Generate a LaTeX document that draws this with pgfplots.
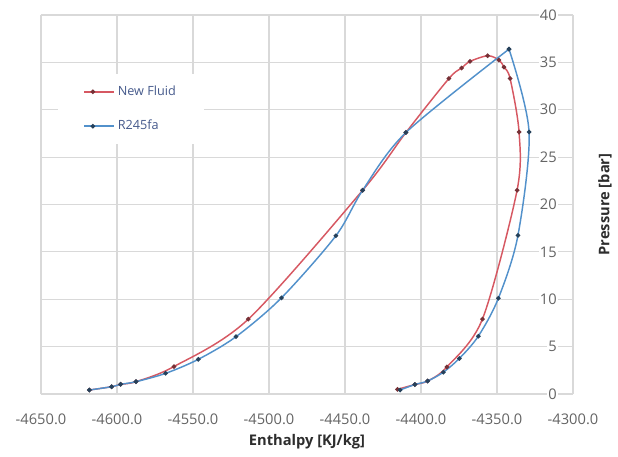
\documentclass[border=0pt]{standalone}
\usepackage{pgfplots}
\pgfplotsset{compat=1.18}
\usepackage{pgfplotstable}
\usepackage{fontspec}
\setmainfont{Open Sans}
\definecolor{redline}{RGB}{214,88,98}
\definecolor{blueline}{RGB}{82,145,203}
\definecolor{gridgray}{RGB}{217,217,217}
\definecolor{ticktext}{RGB}{100,100,100}
\definecolor{legtext}{RGB}{70,90,140}
\definecolor{labtext}{RGB}{45,45,45}

\pgfplotstableread{
x y
-4618.2 0.42
-4603.5 0.77
-4597.6 1.02
-4587.5 1.30
-4562.5 2.90
-4513.6 7.90
-4438.4 21.50
-4409.9 27.60
-4381.6 33.30
-4373.3 34.40
-4367.8 35.10
-4356.1 35.70
-4348.7 35.25
-4345.4 34.50
-4341.4 33.30
-4335.5 27.65
-4336.8 21.50
-4359.6 7.90
-4383.0 2.85
-4395.6 1.37
-4404.0 1.00
-4415.5 0.49
}\newfluid

\pgfplotstableread{
x y
-4618.2 0.42
-4603.5 0.77
-4597.6 1.02
-4587.5 1.30
-4568.0 2.18
-4546.5 3.66
-4521.7 6.05
-4491.8 10.15
-4456.0 16.70
-4438.4 21.50
-4409.9 27.60
-4342.1 36.40
}\rleft

\pgfplotstableread{
x y
-4342.1 36.40
-4328.9 27.65
-4336.2 16.75
-4349.1 10.10
-4362.3 6.10
-4374.8 3.75
-4385.3 2.30
-4395.6 1.37
-4404.0 1.00
-4413.8 0.42
}\rright

\begin{document}
\begin{tikzpicture}
\useasboundingbox (-30.75pt,-47.25pt) rectangle (432.75pt,295.5pt);
\begin{axis}[
  at={(0pt,0pt)}, anchor=south west,
  scale only axis,
  width=399pt, height=284.25pt,
  xmin=-4650, xmax=-4300, ymin=0, ymax=40,
  xtick={-4650,-4600,...,-4300},
  ytick={0,5,...,40},
  grid=major,
  grid style={gridgray, line width=0.8pt},
  axis line style={draw=none},
  major tick length=0pt,
  yticklabel pos=right,
  /pgf/number format/assume math mode=true,
  xticklabel style={/pgf/number format/.cd, fixed, fixed zerofill, precision=1, 1000 sep={}, /tikz/.cd, font=\fontsize{11}{13}\selectfont, text=ticktext, yshift=-11pt},
  yticklabel style={font=\fontsize{11}{13}\selectfont, text=ticktext, anchor=east, xshift=-11pt, fill=white, inner xsep=1pt, inner ysep=0.5pt},
  xlabel={Enthalpy [KJ/kg]},
  ylabel={Pressure [bar]},
  x label style={at={(axis description cs:0.5,0)}, anchor=center, yshift=-36pt, font=\bfseries\fontsize{11}{13}\selectfont, text=labtext},
  y label style={at={(axis description cs:1,0.5)}, anchor=center, yshift=-24pt, font=\bfseries\fontsize{11}{13}\selectfont, text=labtext},
  legend style={at={(axis description cs:0.032,0.845)}, anchor=north west, draw=none, fill=white, font=\fontsize{9.5}{11}\selectfont, text=legtext, row sep=13pt, inner xsep=19pt, inner ysep=7pt},
  legend cell align=left,
  legend image code/.code={\path (0pt,0pt) -- (22.5pt,0pt); \draw[mark repeat=2,mark phase=2,#1] plot coordinates {(0pt,0pt) (6.4pt,0pt) (12.75pt,0pt)};},
]
\addplot[redline, line width=1.1pt, smooth, mark=*, mark size=1.1pt, mark options={fill=redline!55!black, draw=redline!55!black}] table {\newfluid};
\addlegendentry{New Fluid}
\addplot[blueline, line width=1.1pt, smooth, mark=*, mark size=1.1pt, mark options={fill=blueline!45!black, draw=blueline!45!black}] table {\rleft};
\addlegendentry{R245fa}
\addplot[blueline, line width=1.1pt, smooth, mark=*, mark size=1.1pt, mark options={fill=blueline!45!black, draw=blueline!45!black}, forget plot] table {\rright};
\end{axis}
\end{tikzpicture}
\end{document}
